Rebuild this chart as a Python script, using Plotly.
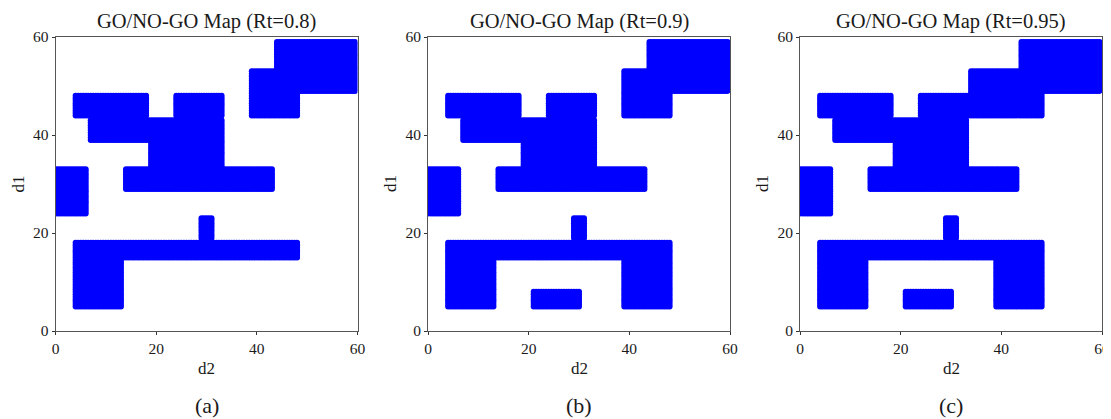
import numpy as np
import plotly.graph_objects as go

# GO regions: rectangles (d2_min, d2_max, d1_min, d1_max), edge coordinates
titles = ["GO/NO-GO Map (Rt=0.8)", "GO/NO-GO Map (Rt=0.9)", "GO/NO-GO Map (Rt=0.95)"]
sublabels = ["(a)", "(b)", "(c)"]
x_label, y_label = "d2", "d1"
tick_values = [0, 20, 40, 60]

upper_ab = [
    (43.5, 60.0, 48.5, 59.5),
    (38.5, 48.5, 43.5, 53.5),
    (3.5, 18.5, 43.5, 48.5),
    (6.5, 33.5, 38.5, 43.5),
    (18.5, 33.5, 28.5, 43.5),
    (23.5, 33.5, 43.5, 48.5),
    (13.5, 43.5, 28.5, 33.5),
    (0.0, 6.5, 23.5, 33.5),
]
lower_a = [
    (3.5, 13.5, 4.5, 18.5),
    (3.5, 48.5, 14.5, 18.5),
    (28.5, 31.5, 18.5, 23.5),
]
lower_bc = [
    (3.5, 13.5, 4.5, 18.5),
    (3.5, 48.5, 14.5, 18.5),
    (28.5, 31.5, 18.5, 23.5),
    (38.5, 48.5, 4.5, 18.5),
    (20.5, 30.5, 4.5, 8.5),
]
upper_c = [
    (43.5, 60.0, 48.5, 59.5),
    (33.5, 48.5, 43.5, 53.5),
    (3.5, 18.5, 43.5, 48.5),
    (6.5, 33.5, 38.5, 43.5),
    (18.5, 33.5, 28.5, 43.5),
    (23.5, 43.5, 43.5, 48.5),
    (13.5, 43.5, 28.5, 33.5),
    (0.0, 6.5, 23.5, 33.5),
]
regions = [upper_ab + lower_a, upper_ab + lower_bc, upper_c + lower_bc]

grid_step = 0.5


def points(rects):
    g = np.arange(0, 60 + 1e-9, grid_step)
    X, Y = np.meshgrid(g, g)
    mask = np.zeros_like(X, dtype=bool)
    for x0, x1, y0, y1 in rects:
        lo_x = x0 + 0.5 if x0 > 0.1 else -1
        hi_x = x1 - 0.5
        mask |= (X >= lo_x - 1e-9) & (X <= hi_x + 1e-9) & (Y >= y0 + 0.5 - 1e-9) & (Y <= y1 - 0.5 + 1e-9)
    return X[mask], Y[mask]


# page body has an 8px margin: draw the figure 8px smaller and place things in window pixels
OFF = 8
W, H = 1111 - OFF, 419 - OFF


def px(xw):
    return (xw - OFF) / W


def py(yw):
    return 1 - (yw - OFF) / H


xdoms = [(55.5, 357.5), (428, 730), (800, 1102)]
ytop, ybot = 37, 331

fig = go.Figure()
serif = "Liberation Serif, Times New Roman, serif"
txt = "#1a1a1a"
layout = dict(
    width=W, height=H, margin=dict(l=0, r=0, t=0, b=0),
    paper_bgcolor="white", plot_bgcolor="white", showlegend=False,
    font=dict(family=serif, size=15, color=txt),
)
annotations = []
for i in range(3):
    xs, ys = points(regions[i])
    xa = "x" if i == 0 else f"x{i+1}"
    ya = "y" if i == 0 else f"y{i+1}"
    fig.add_trace(go.Scatter(
        x=xs, y=ys, mode="markers", xaxis=xa, yaxis=ya,
        marker=dict(color="#0000ff", size=6, line=dict(width=0)),
        cliponaxis=True, hoverinfo="skip",
    ))
    x0, x1 = xdoms[i]
    axcommon = dict(
        range=[0, 60], tickvals=tick_values, ticks="outside", ticklen=3,
        tickcolor="#333", showline=True, linecolor="#555", linewidth=1, mirror=True,
        showgrid=False, zeroline=False, tickfont=dict(family=serif, size=15.5, color=txt),
        fixedrange=True, automargin=False, ticklabeloverflow="allow",
    )
    layout["xaxis" if i == 0 else f"xaxis{i+1}"] = dict(
        axcommon, domain=[px(x0), px(x1)], anchor=ya,
    )
    layout["yaxis" if i == 0 else f"yaxis{i+1}"] = dict(
        axcommon, domain=[py(ybot), py(ytop)], anchor=xa,
    )
    cxw = (x0 + x1) / 2
    annotations.append(dict(text=titles[i], x=px(cxw), y=py(22), xref="paper", yref="paper",
                            showarrow=False, xanchor="center", yanchor="middle",
                            font=dict(family=serif, size=20.5, color=txt)))
    annotations.append(dict(text=x_label, x=px(cxw), y=py(368), xref="paper", yref="paper",
                            showarrow=False, xanchor="center", yanchor="middle",
                            font=dict(family=serif, size=17, color=txt)))
    annotations.append(dict(text=y_label, x=px(x0 - 37), y=py(184), xref="paper", yref="paper",
                            showarrow=False, xanchor="center", yanchor="middle", textangle=-90,
                            font=dict(family=serif, size=17, color=txt)))
    annotations.append(dict(text=sublabels[i], x=px(cxw), y=py(405), xref="paper", yref="paper",
                            showarrow=False, xanchor="center", yanchor="middle",
                            font=dict(family=serif, size=22, color=txt)))
layout["annotations"] = annotations
fig.update_layout(**layout)
fig.write_html("out.html")
